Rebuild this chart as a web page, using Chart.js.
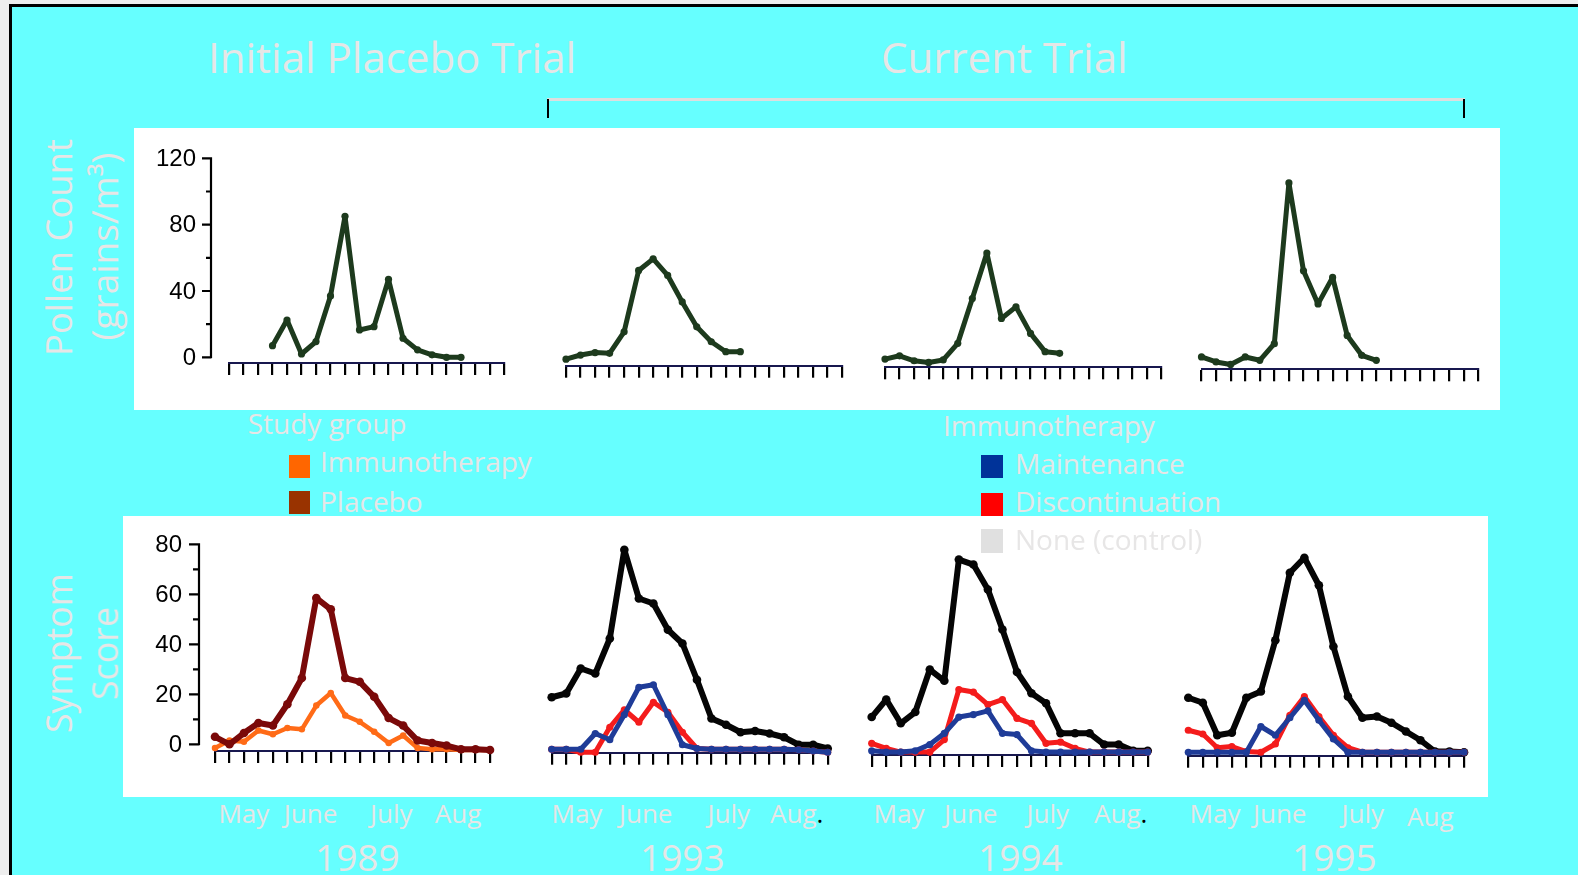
<!DOCTYPE html>
<html>
<head>
<meta charset="utf-8">
<title>Grass pollen counts and hay fever symptom scores, 1989–1995</title>
<script src="https://cdn.jsdelivr.net/npm/chart.js@4/dist/chart.umd.min.js"></script>
<style>
  html, body { margin: 0; padding: 0; }
  body { width: 1578px; height: 875px; position: relative; overflow: hidden; background: #eeeeee; }
  .box { position: absolute; }
  canvas { position: absolute; }
  .txt { position: absolute; left: 0; top: 0; white-space: nowrap; transform-origin: 0 0;
         font-family: 'Open Sans', sans-serif; color: #e7e6e6; line-height: normal; }
</style>
</head>
<body>
<script>
// ---------- data ----------
// sampling slots along each season's x axis (May to August)
const weeks = ['1','2','3','4','5','6','7','8','9','10','11','12','13','14','15','16','17','18','19','20'];
const years = ['1989', '1993', '1994', '1995'];
const months = ['May', 'June', 'July', 'Aug'];

// pollen count, grains/m3
const pollen1989 = [null, null, null, 7, 22.5, 2, 9.5, 37, 85, 16.5, 18.5, 47, 11.5, 4.5, 1.5, 0, 0, null, null, null];
const pollen1993 = [0.5, 3, 4.5, 4, 17, 54, 61, 51, 35, 20, 11, 5, 5, null, null, null, null, null, null, null];
const pollen1994 = [1.5, 3.5, 0.5, -0.5, 1, 11, 38, 65.5, 26, 33, 17, 6, 5, null, null, null, null, null, null, null];
const pollen1995 = [4, 1, -0.5, 4, 2, 12, 109, 56, 36, 52, 17, 5, 2, null, null, null, null, null, null, null];

// symptom scores, 1989 (initial placebo trial)
const placebo1989 = [3, 0, 4.5, 8.5, 7.5, 16, 26.5, 58.5, 54, 26.5, 25, 19, 10.5, 7.5, 1.5, 0.5, -0.5, -2, -2, -2.3];
const immuno1989  = [-1.5, 1.5, 1, 5.5, 4, 6.5, 6, 15.5, 20.5, 11.5, 9, 5, 0.5, 3.5, -1.5, -2, -2, -2.3, -2.3, -2.3];

// symptom scores, current trial
const control1993  = [19.5, 21, 31, 29, 43, 78.5, 59, 57, 46.5, 41, 26.5, 11, 8.5, 5.5, 6, 5, 3.5, 0.5, 0.5, -1];
const maint1993    = [-1.3, -1.3, -1.3, 5, 2.5, 12.5, 23.5, 24.5, 12.5, 0.5, -1, -1.3, -1.3, -1.3, -1.3, -1.3, -1.3, -1.5, -2, -2.5];
const discont1993  = [-1.3, -1.3, -2.5, -2.5, 7.5, 14.5, 9.5, 17.5, 13.5, 5.5, -1, -1.3, -1.3, -1.3, -1.3, -1.3, -1.3, -1.5, -2, -2.5];

const control1994  = [12.5, 19.5, 10, 14.5, 31.5, 27, 75.5, 73.5, 63.5, 47.5, 30.5, 22, 18, 6, 6, 6, 1.5, 1.5, -1, -1];
const maint1994    = [-1, -1.5, -1.5, -1, 1.5, 6, 12.5, 13.5, 15, 6, 5.5, -1, -1.5, -1.5, -1.5, -1.5, -1.5, -1.5, -1.5, -1.5];
const discont1994  = [2, 0, -1.5, -1.5, -1.5, 3.5, 23.5, 22.5, 17.5, 19.5, 12, 10, 2, 2.5, 0, -1.5, -1.5, -1.5, -1.5, -1.5];

const control1995  = [20.5, 18.5, 5.5, 6.5, 20.5, 23, 43.5, 70.5, 76.5, 65.5, 41, 21, 12.5, 13, 10.5, 7, 3.5, -1, -1, -1.3];
const maint1995    = [-1.3, -1.3, -1.3, -1.3, -1.3, 9, 5.5, 12.5, 19.5, 11.5, 4, -1.3, -1.3, -1.3, -1.3, -1.3, -1.3, -1.3, -1.3, -1.3];
const discont1995  = [7.5, 6, 0.5, 1, -1, -1.3, 2, 13.5, 21, 13, 5.5, 0.5, -1.3, -1.3, -1.3, -1.3, -1.3, -1.3, -1.3, -1.3];

// y axis ticks (blank label = minor tick)
const pollenTicks = [0, 20, 40, 60, 80, 100, 120];
const pollenTickLabels = ['0', '', '40', '', '80', '', '120'];
const symptomTicks = [0, 10, 20, 30, 40, 50, 60, 70, 80];
const symptomTickLabels = ['0', '', '20', '', '40', '', '60', '', '80'];

// ---------- colours ----------
const GREEN = '#1d3a1d', MAROON = '#7a0909', ORANGE = '#ff6b17';
const BLACK = '#050505', BLUE = '#1f3c98', RED = '#f41c1c';

// ---------- page furniture ----------
function box(l, t, w, h, css) {
  const d = document.createElement('div');
  d.className = 'box';
  d.style.cssText += `left:${l}px;top:${t}px;width:${w}px;height:${h}px;` + css;
  document.body.appendChild(d);
  return d;
}
// cyan slide with its black top/left edge
box(9, 4, 1569, 871, 'background:#66ffff;border-left:3px solid #000;border-top:3px solid #000;box-sizing:border-box;');
// white plot panels
box(134, 128, 1366, 282, 'background:#fff;');
box(123, 516, 1365, 281, 'background:#fff;');
// "Current Trial" bracket
box(547, 98, 918, 3, 'background:#dedede;');
box(547, 99, 2, 19, 'background:#000;');
box(1463, 99, 2, 19, 'background:#000;');

// ---------- charts ----------
const pollenRow  = { off: 5.7, k: 1.658, max: 120 };   // zero sits 5.7px above the x axis line
const symptomRow = { off: 6.7, k: 2.5,   max: 80 };
const pollenPanels = [
  { L: 229,    R: 504.5,  A: 363 },
  { L: 566,    R: 842,    A: 365.7 },
  { L: 885,    R: 1161.5, A: 367.3 },
  { L: 1201.5, R: 1478.3, A: 369.3 }
];
const symptomPanels = [
  { L: 215,   R: 490,    A: 751 },
  { L: 551.7, R: 827.7,  A: 752.7 },
  { L: 871.7, R: 1147.7, A: 755 },
  { L: 1188.3, R: 1464,  A: 755.7 }
];

// detached y axis drawn to the left of the plot, positioned through the chart's y scale
function makeLeftAxis(cfg) {
  return {
    id: 'leftAxis',
    afterDraw(chart) {
      const ys = chart.scales.y, ctx = chart.ctx;
      const x = chart.chartArea.left - cfg.gap;
      const yTop = ys.getPixelForValue(cfg.ticks[cfg.ticks.length - 1]);
      const yBot = ys.getPixelForValue(cfg.ticks[0]);
      ctx.save();
      ctx.strokeStyle = '#000';
      ctx.lineWidth = 2.2;
      ctx.beginPath();
      ctx.moveTo(x, yTop - 1);
      ctx.lineTo(x, yBot + 1);
      cfg.ticks.forEach((v, i) => {
        const py = ys.getPixelForValue(v);
        const len = cfg.labels[i] ? cfg.major : cfg.minor;
        ctx.moveTo(x - len, py);
        ctx.lineTo(x, py);
      });
      ctx.stroke();
      ctx.fillStyle = '#000';
      ctx.font = '24px "Liberation Sans", Arial, sans-serif';
      ctx.textAlign = 'right';
      ctx.textBaseline = 'middle';
      cfg.ticks.forEach((v, i) => {
        if (cfg.labels[i]) ctx.fillText(cfg.labels[i], x - cfg.major - cfg.pad, ys.getPixelForValue(v) + 1);
      });
      ctx.restore();
    }
  };
}

function series(label, data, color, width) {
  return {
    label, data,
    borderColor: color, backgroundColor: color,
    pointBackgroundColor: color, pointBorderWidth: 0, pointRadius: width * 0.72,
    borderWidth: width, borderJoinStyle: 'round', borderCapStyle: 'round',
    tension: 0, fill: false, clip: false, spanGaps: false
  };
}

function buildPanel(row, p, datasets, axisCfg) {
  const tick = 12;
  const T = p.A - row.off - row.max * row.k;      // pixel of the top value
  const left = Math.floor(p.L - (axisCfg ? 95 : 12));
  const top = Math.floor(T - 14);
  const width = Math.ceil(p.R + 12) - left;
  const height = Math.ceil(p.A + tick + 6) - top;
  const padding = {
    left: p.L - left,
    right: width - (p.R - left),
    top: T - top,
    bottom: height - (p.A - top) - tick
  };
  const cv = document.createElement('canvas');
  cv.width = width;
  cv.height = height;
  cv.style.left = left + 'px';
  cv.style.top = top + 'px';
  document.body.appendChild(cv);
  new Chart(cv, {
    type: 'line',
    data: { labels: weeks, datasets },
    options: {
      responsive: false,
      animation: false,
      devicePixelRatio: 1,
      layout: { padding },
      plugins: { legend: { display: false }, tooltip: { enabled: false } },
      scales: {
        x: {
          type: 'category', offset: false,
          ticks: { display: false },
          grid: { drawOnChartArea: false, drawTicks: true, tickLength: tick, color: '#000', lineWidth: 2.2 },
          border: { display: true, color: '#18184f', width: 2 }
        },
        y: { display: false, min: -row.off / row.k, max: row.max }
      }
    },
    plugins: axisCfg ? [makeLeftAxis(axisCfg)] : []
  });
}

// pollen counts
buildPanel(pollenRow, pollenPanels[0], [series('Pollen 1989', pollen1989, GREEN, 5)],
  { ticks: pollenTicks, labels: pollenTickLabels, gap: 18, major: 9, minor: 5, pad: 6 });
buildPanel(pollenRow, pollenPanels[1], [series('Pollen 1993', pollen1993, GREEN, 5)]);
buildPanel(pollenRow, pollenPanels[2], [series('Pollen 1994', pollen1994, GREEN, 5)]);
buildPanel(pollenRow, pollenPanels[3], [series('Pollen 1995', pollen1995, GREEN, 5)]);

// symptom scores (first dataset is drawn on top)
buildPanel(symptomRow, symptomPanels[0], [
  series('Placebo', placebo1989, MAROON, 6),
  series('Immunotherapy', immuno1989, ORANGE, 4.5)
], { ticks: symptomTicks, labels: symptomTickLabels, gap: 16, major: 10, minor: 6, pad: 7 });
buildPanel(symptomRow, symptomPanels[1], [
  series('Maintenance', maint1993, BLUE, 5),
  series('Discontinuation', discont1993, RED, 5),
  series('None (control)', control1993, BLACK, 6)
]);
buildPanel(symptomRow, symptomPanels[2], [
  series('Maintenance', maint1994, BLUE, 5),
  series('Discontinuation', discont1994, RED, 5),
  series('None (control)', control1994, BLACK, 6)
]);
buildPanel(symptomRow, symptomPanels[3], [
  series('Maintenance', maint1995, BLUE, 5),
  series('Discontinuation', discont1995, RED, 5),
  series('None (control)', control1995, BLACK, 6)
]);

// ---------- text ----------
// x/y: left edge and baseline; rotated text: baseline x and centre y
function addText(html, o) {
  const el = document.createElement('div');
  el.className = 'txt';
  el.style.fontSize = o.size + 'px';
  if (o.color) el.style.color = o.color;
  el.innerHTML = html;
  const mark = document.createElement('span');
  mark.style.cssText = 'display:inline-block;width:0;height:0;';
  el.appendChild(mark);
  document.body.appendChild(el);
  const r = el.getBoundingClientRect();
  const w = r.width;
  const bo = mark.getBoundingClientRect().top - r.top;
  const s = o.w ? o.w / w : 1;
  if (o.rot) {
    el.style.transform = `translate(${o.x}px, ${o.y}px) rotate(-90deg) scaleX(${s}) translate(${-w / 2}px, ${-bo}px)`;
  } else {
    el.style.transform = `translate(${o.x}px, ${o.y}px) scaleX(${s}) translate(0px, ${-bo}px)`;
  }
  return el;
}

addText('Initial Placebo Trial', { x: 208, y: 73, size: 42 });
addText('Current Trial', { x: 881, y: 73, size: 42 });

addText('Pollen Count', { rot: true, x: 71.7, y: 247.5, size: 37, w: 217 });
addText('(grains/m³)', { rot: true, x: 118, y: 246.5, size: 37, w: 188 });
addText('Symptom', { rot: true, x: 71.7, y: 653, size: 37, w: 160 });
addText('Score', { rot: true, x: 118.3, y: 653.5, size: 37, w: 93 });

// legends
addText('Study group', { x: 247.7, y: 434, size: 28 });
box(289, 455, 21, 22.5, 'background:#ff6600;');
addText('Immunotherapy', { x: 320, y: 472, size: 28 });
box(289, 491, 21, 23, 'background:#993300;');
addText('Placebo', { x: 320, y: 511.5, size: 28 });

addText('Immunotherapy', { x: 943, y: 436, size: 28 });
box(981, 455, 22, 23, 'background:#003399;');
addText('Maintenance', { x: 1015, y: 474, size: 28 });
box(981, 492.5, 22, 23, 'background:#ff0000;');
addText('Discontinuation', { x: 1015, y: 512, size: 28 });
box(981, 529, 22, 24, 'background:#e0e0e0;');
addText('None (control)', { x: 1015, y: 549.5, size: 28 });

// month labels under each season and the season's year
const monthLefts = [
  [218.4, 283.8, 370, 434.8],
  [551.5, 619, 707.5, 770],
  [873.6, 944, 1026.5, 1094],
  [1189.6, 1253, 1341.5, 1407]
];
const yearLefts = [315, 640, 978, 1292];
monthLefts.forEach((lefts, p) => {
  lefts.forEach((x, m) => {
    let label = months[m];
    if (m === 3 && (p === 1 || p === 2)) label += '<span style="color:#000">.</span>';
    addText(label, { x, y: (p === 3 && m === 3) ? 826 : 822.7, size: 26 });
  });
  addText(years[p], { x: yearLefts[p], y: 870.7, size: 37 });
});
</script>
</body>
</html>
